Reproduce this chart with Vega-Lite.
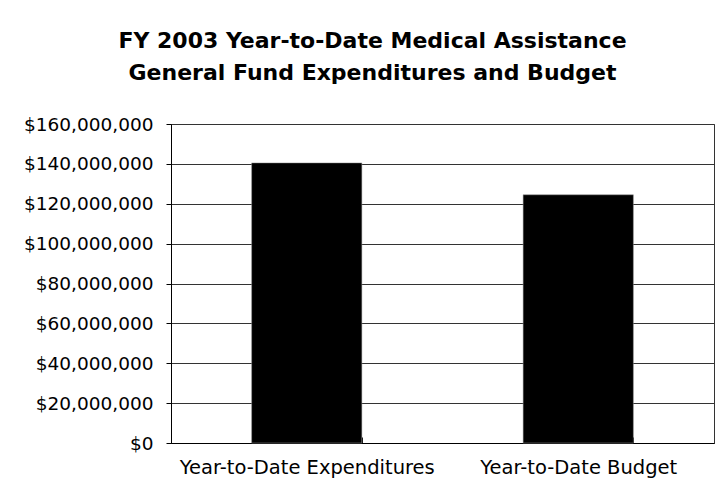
{
  "$schema": "https://vega.github.io/schema/vega-lite/v6.json",
  "width": 543,
  "height": 319,
  "autosize": {"type": "none"},
  "padding": {"left": 171, "top": 124, "right": 6, "bottom": 56},
  "background": "white",
  "data": {"values": [
    {"category": "Year-to-Date Expenditures", "amount": 140500000},
    {"category": "Year-to-Date Budget", "amount": 124500000}
  ]},
  "title": {
    "text": ["FY 2003 Year-to-Date Medical Assistance", "General Fund Expenditures and Budget"],
    "font": "DejaVu Sans",
    "fontSize": 22,
    "fontWeight": "bold",
    "color": "black",
    "anchor": "middle",
    "frame": "group",
    "dx": -70,
    "lineHeight": 32,
    "offset": 30
  },
  "mark": {"type": "bar", "color": "black", "stroke": "#999", "strokeWidth": 0.5},
  "encoding": {
    "x": {
      "field": "category", "type": "nominal", "sort": null,
      "scale": {"paddingInner": 0.594, "paddingOuter": 0.297},
      "axis": {
        "title": null, "labelAngle": 0, "labelFont": "DejaVu Sans", "labelFontSize": 19.5,
        "labelColor": "black", "labelPadding": 21, "labelLimit": 400, "tickBand": "extent", "tickSize": -6,
        "tickColor": "black", "domainColor": "black", "grid": false
      }
    },
    "y": {
      "field": "amount", "type": "quantitative",
      "scale": {"domain": [0, 160000000], "nice": false},
      "axis": {
        "title": null, "values": [0, 20000000, 40000000, 60000000, 80000000, 100000000, 120000000, 140000000, 160000000],
        "format": "$,.0f", "labelFont": "DejaVu Sans", "labelFontSize": 18.5, "labelColor": "black",
        "labelPadding": 13, "labelLimit": 300, "tickSize": 5, "tickColor": "black", "domainColor": "black",
        "grid": true, "gridColor": "#333", "gridOpacity": 1
      }
    }
  },
  "config": {"view": {"stroke": "#333", "strokeWidth": 1}}
}
